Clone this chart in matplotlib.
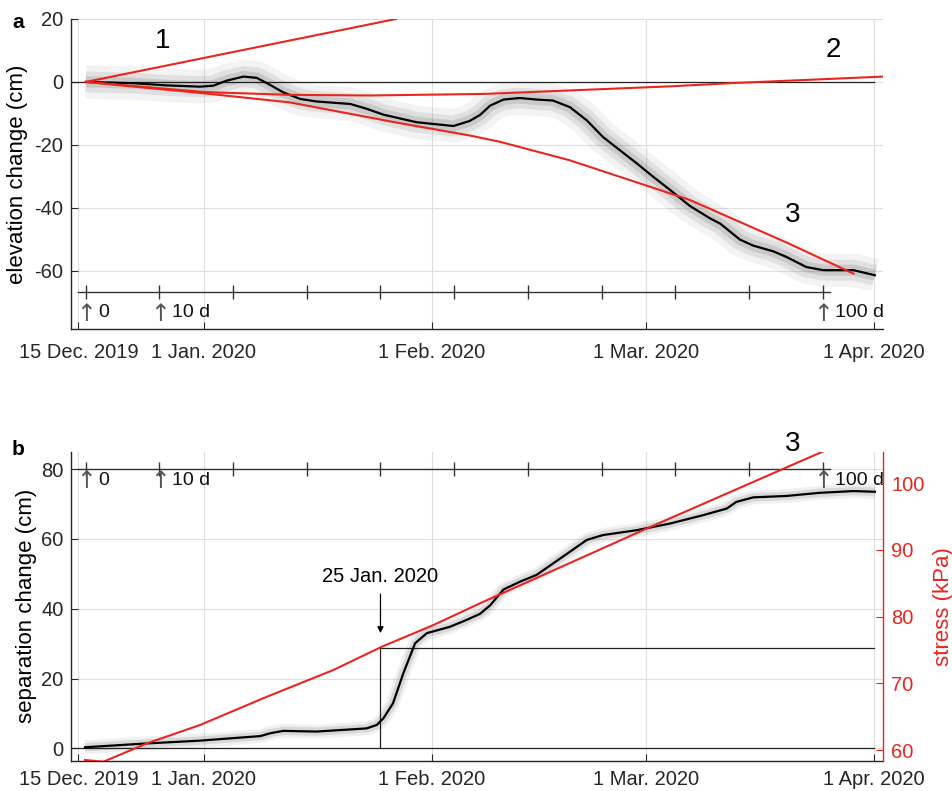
import numpy as np
import matplotlib
matplotlib.use("Agg")
import matplotlib.pyplot as plt
import matplotlib.dates as mdates
from datetime import datetime

plt.rcParams['font.family'] = ['Liberation Sans', 'DejaVu Sans']
plt.rcParams['axes.unicode_minus'] = False

# days are counted from 15 Dec. 2019
t0 = mdates.date2num(datetime(2019, 12, 15))

# panel a: elevation change (smoothed)
elev_days = [1.0, 7.5, 12.0, 16.5, 18.3, 20.1, 22.4, 24.2, 25.6, 27.8, 30.1, 32.3,
             36.9, 39.1, 41.4, 45.9, 50.9, 53.1, 54.5, 55.9, 57.7, 59.9, 62.2, 64.4,
             66.7, 69.0, 71.2, 73.5, 75.8, 78.0, 80.3, 83.0, 85.7, 87.1, 89.8, 91.6,
             94.3, 96.1, 98.8, 101.1, 105.2, 108.1]
elev_cm = [0, -0.4, -1.1, -1.5, -1.2, 0.4, 1.7, 1.3, -0.4, -3.3, -5.4, -6.2,
           -7.0, -8.5, -10.4, -12.8, -14.0, -12.4, -10.5, -7.5, -5.6, -5.1, -5.6, -5.9,
           -8.0, -12.2, -17.5, -21.7, -25.9, -30.1, -34.3, -39.4, -43.3, -45.0, -50.1, -52.0,
           -53.8, -55.6, -58.8, -59.8, -59.8, -61.4]

# panel a: model curves 1, 2, 3
fit1_days = [1.0, 43.1]
fit1_cm = [0, 20]
fit2_days = [1.0, 17.0, 28.7, 39.6, 55.2, 66.7, 80.3, 89.3, 98.4, 109.2]
fit2_cm = [0, -3.2, -4.1, -4.3, -3.8, -2.7, -1.4, -0.3, 0.6, 1.7]
fit3_days = [1.0, 17.0, 28.7, 43.4, 53.1, 57.2, 66.7, 80.3, 83.0, 96.1, 105.2]
fit3_cm = [0, -3.6, -6.5, -13.0, -17.0, -19.0, -24.9, -35.4, -37.5, -51.0, -60.9]

# panel b: separation change (smoothed)
sep_days = [0.9, 9.3, 16.5, 24.7, 26.0, 27.8, 32.3, 39.1, 40.5, 41.4, 42.7, 44.1,
            45.7, 47.3, 50.4, 52.7, 54.5, 55.9, 57.7, 59.9, 62.2, 66.7, 69.0, 71.2,
            75.8, 80.3, 84.8, 88.0, 89.3, 91.6, 96.1, 100.6, 105.2, 108.1]
sep_cm = [0.3, 1.4, 2.2, 3.5, 4.3, 5.0, 4.8, 5.7, 6.7, 8.6, 12.9, 21.5,
          30.1, 33.0, 34.8, 36.8, 38.5, 41.0, 45.5, 47.7, 49.7, 56.3, 59.7, 61.1,
          62.5, 64.4, 66.8, 68.7, 70.6, 71.9, 72.3, 73.2, 73.7, 73.5]

# panel b: stress (right axis)
stress_days = [0.9, 3.4, 9.3, 16.5, 25.6, 34.6, 41.2, 48.2, 54.5, 77.1, 101.1]
stress_kpa = [58.5, 58.25, 61.0, 63.75, 68.0, 72.0, 75.5, 78.75, 82.0, 93.2, 104.8]

event_day = 41.0          # 25 Jan. 2020
event_level = 28.6
end_day = 108.0           # 1 Apr. 2020

tick_days = [0, 17, 48, 77, 108]
tick_labels = ['15 Dec. 2019', '1 Jan. 2020', '1 Feb. 2020', '1 Mar. 2020', '1 Apr. 2020']
since_days = np.arange(0, 101, 10)   # day counter starting 16 Dec.
since_start = 1.0
since_labels = {0: '0', 10: '10 d', 100: '100 d'}

RED = '#e8261e'
AX = '#262626'
GRID = '#dedede'


def X(days):
    return t0 + np.asarray(days, dtype=float)


def style(ax, xpad):
    ax.set_xlim(X(-1.0), X(109.2))
    ax.set_xticks(X(tick_days))
    ax.set_xticklabels(tick_labels)
    ax.grid(True, color=GRID, lw=0.8)
    ax.set_axisbelow(True)
    for s in ['top', 'right']:
        ax.spines[s].set_visible(False)
    for s in ['left', 'bottom']:
        ax.spines[s].set_color(AX)
        ax.spines[s].set_linewidth(1.0)
    ax.tick_params(direction='in', length=5, width=0.8, colors=AX, labelsize=14.5)
    ax.tick_params(axis='x', pad=xpad)
    ax.tick_params(axis='y', pad=5.5)


def cloud(ax, x, y, widths):
    # the scattered raw points, drawn as a soft grey band round the smoothed curve
    for w, a in widths:
        ax.plot(X(x), y, color='#707070', lw=w, alpha=a, solid_capstyle='butt', zorder=1)


def day_axis(ax, y, arrow_dy, label_dy):
    ax.plot(X([since_start - 1, since_start + 101]), [y, y], color='#333333', lw=1.0, zorder=3)
    ax.plot(X(since_start + since_days), [y] * len(since_days), ls='none', marker='|',
            ms=9.6, mew=1.0, color='#333333', zorder=3)
    for d, txt in since_labels.items():
        ax.annotate('\u2191', xy=(X(since_start + d), y), xytext=(0.5, arrow_dy),
                    textcoords='offset points', ha='center', va='center', fontsize=17,
                    family='DejaVu Sans', color='#555555', zorder=4, annotation_clip=False)
        ax.annotate(txt, xy=(X(since_start + d), y), xytext=(8.8, label_dy),
                    textcoords='offset points', ha='left', va='center', fontsize=14,
                    color='#111111', zorder=4, annotation_clip=False)


fig = plt.figure(figsize=(9.52, 7.91), dpi=100)

# ---- panel a
ax1 = fig.add_axes([0.0746, 0.584, 0.8529, 0.392])
style(ax1, 10)
ax1.set_ylim(-78.5, 20)
ax1.set_yticks([-60, -40, -20, 0, 20])
ax1.set_ylabel('elevation change (cm)', fontsize=16)
ax1.yaxis.set_label_coords(-0.053, 0.5)

cloud(ax1, elev_days, elev_cm, [(24, 0.08), (15, 0.14), (8, 0.2)])
ax1.plot(X([-1.0, end_day]), [0, 0], color='#222222', lw=0.9, zorder=2)
ax1.plot(X(elev_days), elev_cm, color='black', lw=1.6, zorder=5)
ax1.plot(X(fit1_days), fit1_cm, color=RED, lw=1.5, zorder=6)
ax1.plot(X(fit2_days), fit2_cm, color=RED, lw=1.5, zorder=6)
ax1.plot(X(fit3_days), fit3_cm, color=RED, lw=1.5, zorder=6)
day_axis(ax1, -66.7, -15.6, -14.8)

ax1.text(X(11.5), 13.0, '1', fontsize=20, ha='center', va='center')
ax1.text(X(102.4), 10.2, '2', fontsize=20, ha='center', va='center')
ax1.text(X(97.0), -42.2, '3', fontsize=20, ha='center', va='center')

# ---- panel b
ax2 = fig.add_axes([0.0746, 0.0383, 0.8529, 0.3903])
style(ax2, 6.5)
ax2.set_ylim(-3.55, 84.9)
ax2.set_yticks([0, 20, 40, 60, 80])
ax2.set_ylabel('separation change (cm)', fontsize=16)
ax2.yaxis.set_label_coords(-0.042, 0.5)

cloud(ax2, sep_days, sep_cm, [(10, 0.10), (6, 0.18)])
ax2.plot(X([-1.0, end_day]), [0, 0], color='#222222', lw=0.9, zorder=2)
ax2.plot(X([event_day, event_day, end_day]), [0, event_level, event_level],
         color='#222222', lw=0.9, zorder=2)
ax2.plot(X(sep_days), sep_cm, color='black', lw=1.6, zorder=5)
day_axis(ax2, 80, -8.6, -7.9)
ax2.annotate('25 Jan. 2020', xy=(X(event_day), 33.0), xytext=(X(event_day), 49.3),
             ha='center', va='center', fontsize=14.5,
             arrowprops=dict(arrowstyle='-|>', color='black', lw=0.9,
                             mutation_scale=9, shrinkA=4, shrinkB=0))

ax2r = ax2.twinx()
ax2r.set_ylim(58.4, 104.7)
ax2r.set_yticks([60, 70, 80, 90, 100])
for s in ['top', 'left', 'bottom']:
    ax2r.spines[s].set_visible(False)
ax2r.spines['right'].set_color(RED)
ax2r.spines['right'].set_linewidth(1.0)
ax2r.tick_params(direction='in', length=5, width=0.8, colors=RED, labelsize=14.5, pad=6)
ax2r.set_ylabel('stress (kPa)', fontsize=16, color=RED)
ax2r.yaxis.set_label_coords(1.061, 0.5)
ax2r.plot(X(stress_days), stress_kpa, color=RED, lw=1.5, zorder=6)
ax2r.text(X(97.0), 105.9, '3', fontsize=20, ha='center', va='center', clip_on=False)

fig.text(0.0126, 0.9646, 'a', fontsize=15, fontweight='bold', va='baseline')
fig.text(0.0126, 0.4248, 'b', fontsize=15, fontweight='bold', va='baseline')

fig.savefig('out.png', dpi=100)
